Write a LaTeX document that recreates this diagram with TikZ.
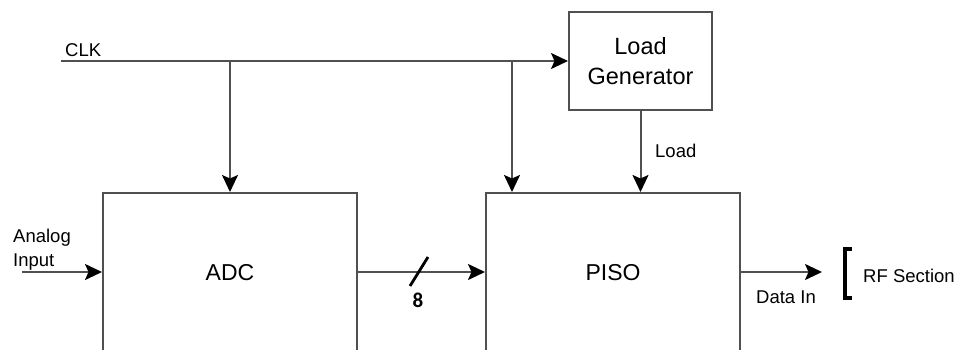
\documentclass[tikz,border=0pt]{standalone}
\usepackage{fontspec}
\setmainfont{Liberation Sans}
\newfontfamily\digitfont{Carlito}
\usetikzlibrary{arrows.meta,calc}
\definecolor{wire}{HTML}{505050}

\begin{document}
\begin{tikzpicture}[
    x=1pt, y=1pt,
    block/.style = {
      draw=wire,
      line width=2pt,
      minimum width=254pt,
      minimum height=160pt,
      inner sep=0pt,
      font=\fontsize{23}{26}\selectfont
    },
    genbox/.style = {
      draw=wire,
      line width=2pt,
      minimum width=143pt,
      minimum height=98pt,
      align=center,
      font=\fontsize{23.5}{30}\selectfont
    },
    lbl/.style = {inner sep=0pt, font=\fontsize{18.5}{24}\selectfont},
    wireline/.style = {draw=wire, line width=2pt},
    arrow/.style = {wireline, -{Stealth[length=17pt,width=16pt,inset=3.5pt,black]}}
  ]
\useasboundingbox (0,0) rectangle (957,349);
\clip (0,0) rectangle (957,349);

\node[genbox] (gen) at (640.5,288) {Load\\Generator};
\node[block] (adc) at (230,76) {ADC};
\node[block] (piso) at (613,76) {PISO};

% clock line and taps
\coordinate (clkin) at (61,288);
\node[lbl, anchor=base west] (clk) at (65,293) {CLK};
\draw[arrow] (clkin) -- (gen.west);
\draw[arrow] (adc.north |- clkin) -- (adc.north);
\coordinate (pisoclk) at ([xshift=27pt]piso.north west);
\draw[arrow] (pisoclk |- clkin) -- (pisoclk);
\draw[arrow] (gen.south) -- (gen.south |- piso.north);
\node[lbl, anchor=base west] (load) at (655,192) {Load};

% analog input
\coordinate (ain) at (22,77);
\node[lbl, anchor=south west, align=left] (ainlbl) at (13,78) {Analog\\Input};
\draw[arrow] (ain) -- (ain -| adc.west);

% 8-bit bus
\draw[arrow] (adc.east |- ain) -- (piso.west |- ain);
\coordinate (bus) at (419,77);
\draw[black, line width=2.8pt] ($(bus)+(-9,-14)$) -- ($(bus)+(9,15)$);
\node[inner sep=0pt, font=\digitfont\bfseries\fontsize{21}{22}\selectfont] (width) at ($(bus)+(-1,-28)$) {8};

% output to RF section
\coordinate (dout) at (822,77);
\draw[arrow] (piso.east |- ain) -- (dout);
\node[lbl, anchor=base] (datain) at (786,46) {Data In};
\node[lbl, anchor=base west] (rf) at (863,67) {RF Section};
\draw[black, line width=3.5pt] ($(rf.base west)+(-11,33)$) -- ++(-7,0) -- ++(0,-49) -- ++(7,0);
\end{tikzpicture}
\end{document}
